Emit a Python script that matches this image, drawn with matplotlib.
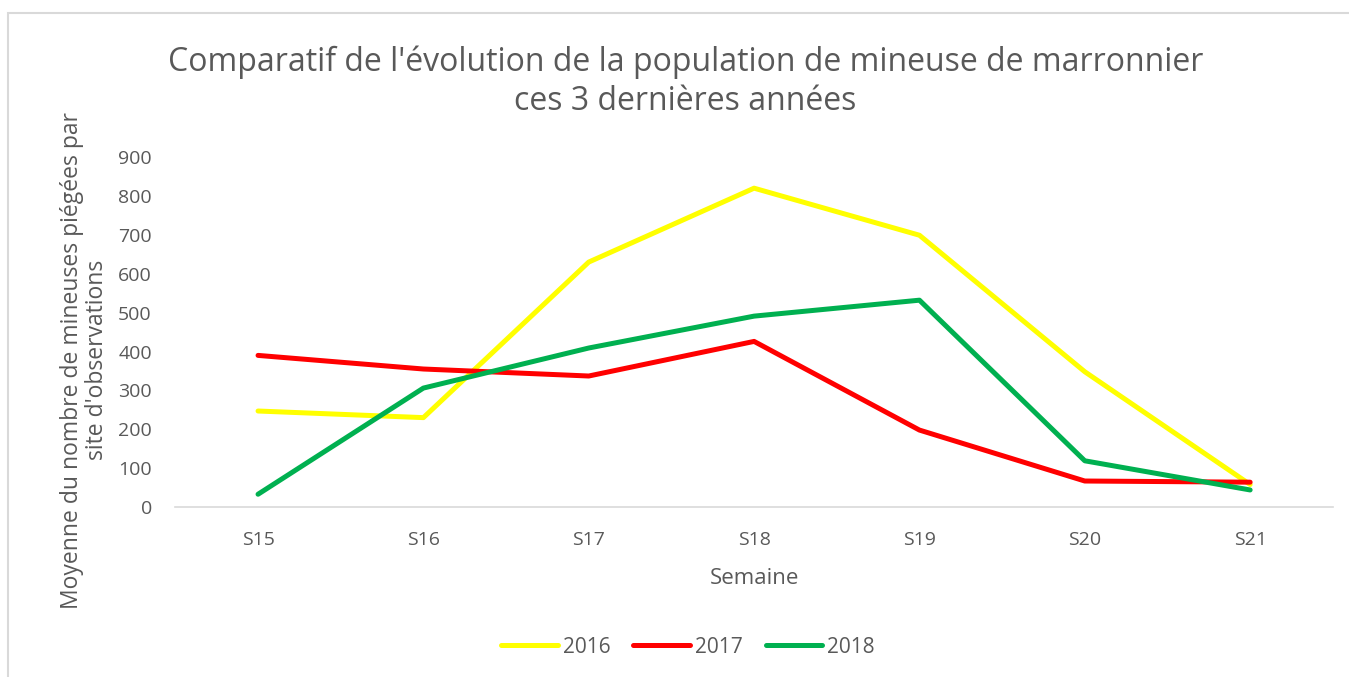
import matplotlib
matplotlib.use("Agg")
import matplotlib.pyplot as plt
from matplotlib.patches import Rectangle

semaines = ["S15", "S16", "S17", "S18", "S19", "S20", "S21"]
v2016 = [247, 230, 630, 820, 699, 348, 58]
v2017 = [390, 355, 337, 426, 198, 67, 64]
v2018 = [33, 306, 409, 491, 532, 119, 44]

plt.rcParams['font.family'] = ['Open Sans', 'DejaVu Sans']
gris = '#595959'

fig = plt.figure(figsize=(13.49, 6.77), dpi=100)
ax = fig.add_axes([0.130, 0.251, 0.858, 0.517])

x = range(len(semaines))
ax.plot(x, v2016, color='#FFFF00', lw=3.6, label='2016', solid_capstyle='round', solid_joinstyle='round')
ax.plot(x, v2017, color='#FF0000', lw=3.6, label='2017', solid_capstyle='round', solid_joinstyle='round')
ax.plot(x, v2018, color='#00B050', lw=3.6, label='2018', solid_capstyle='round', solid_joinstyle='round')

ax.set_xlim(-0.5, 6.5)
ax.set_ylim(0, 900)
ax.set_yticks(range(0, 901, 100))
ax.set_xticks(list(x))
ax.set_xticklabels(semaines)
ax.tick_params(length=0, labelsize=14, colors=gris)
ax.tick_params(axis='y', pad=17)
ax.tick_params(axis='x', pad=17)
for s in ['top', 'right', 'left']:
    ax.spines[s].set_visible(False)
ax.spines['bottom'].set_color('#d9d9d9')
ax.spines['bottom'].set_linewidth(1.2)

ax.set_xlabel('Semaine', fontsize=16, color=gris, labelpad=14)
ax.set_ylabel("Moyenne du nombre de mineuses piégées par\nsite d'observations",
              fontsize=16.5, color=gris, linespacing=1.1)
ax.yaxis.set_label_coords(-0.057, 0.42)

fig.text(0.508, 0.879, "Comparatif de l'évolution de la population de mineuse de marronnier\nces 3 dernières années",
         ha='center', va='center', fontsize=23, color=gris, linespacing=1.25)

leg = fig.legend(loc='center', bbox_to_anchor=(0.51, 0.044), ncol=3, frameon=False,
                 fontsize=15, handlelength=2.7, handletextpad=0.25, columnspacing=1.1)
for t in leg.get_texts():
    t.set_color(gris)

fig.patches.append(Rectangle((8 / 1349, -0.1), 1.2, 1.1 - 13 / 677, transform=fig.transFigure,
                             fill=False, edgecolor='#d9d9d9', lw=1.5))

fig.savefig('out.png', dpi=100)
